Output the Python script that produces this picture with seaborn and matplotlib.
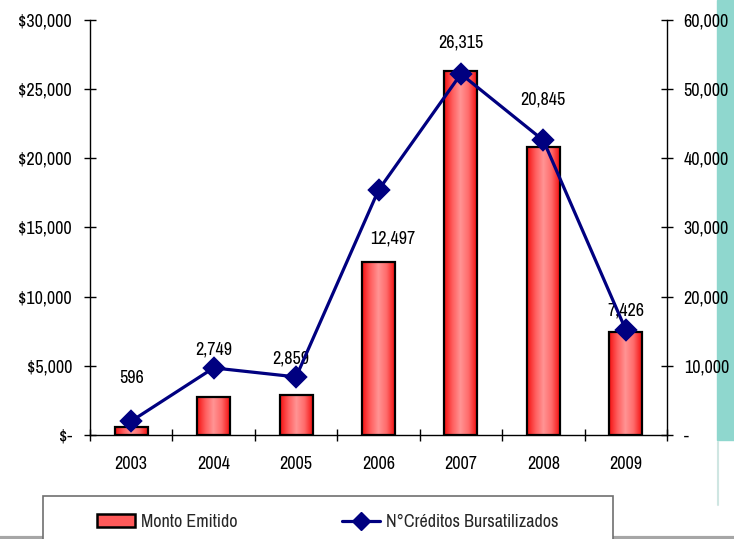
import numpy as np
import matplotlib
matplotlib.use('Agg')
import matplotlib.pyplot as plt
import seaborn as sns
from matplotlib.patches import Rectangle
from matplotlib.lines import Line2D
from matplotlib.colors import LinearSegmentedColormap
from matplotlib.ticker import FuncFormatter, FixedLocator

# ---- data ----
years = ['2003', '2004', '2005', '2006', '2007', '2008', '2009']
monto = [596, 2749, 2859, 12497, 26315, 20845, 7426]
creditos = [2000, 9700, 8400, 35400, 52200, 42600, 15200]
bar_labels = ['596', '2,749', '2,859', '12,497', '26,315', '20,845', '7,426']
left_ticks = [0, 5000, 10000, 15000, 20000, 25000, 30000]
right_ticks = [0, 10000, 20000, 30000, 40000, 50000, 60000]
series_names = ['Monto Emitido', 'N°Créditos Bursatilizados']

# label offsets (pixels from bar top centre) - style only
label_dy_px = [49, 47, 37, 24, 28, 47, 22]
label_dx_px = [0, 0, -5, 14, 0, 0, 0]

NAVY = '#000080'
FONT = ['Archivo Narrow', 'Liberation Sans', 'DejaVu Sans']
FS = 13

sns.set_theme(style='white')
plt.rcParams['font.family'] = FONT
plt.rcParams['font.size'] = FS

fig = plt.figure(figsize=(7.34, 5.39), dpi=100)
fig.patch.set_facecolor('white')

# decorations: teal stripe, bottom gray line
fig.patches.append(Rectangle((717 / 734, 1 - 440 / 539), 1, 440 / 539,
                             transform=fig.transFigure, color='#8fd7ce', zorder=-5))
fig.lines.append(Line2D([718 / 734, 718 / 734], [1 - 505 / 539, 1 - 442 / 539],
                        transform=fig.transFigure, color='#cfe6e2', lw=1.5, zorder=-5))
fig.lines.append(Line2D([0, 1], [1 - 537.5 / 539, 1 - 537.5 / 539],
                        transform=fig.transFigure, color='#a6a6a6', lw=3, zorder=-5))

ax = fig.add_axes([90 / 734, 1 - 435 / 539, 577 / 734, 415 / 539])
ax.set_facecolor('none')

sns.barplot(x=years, y=monto, ax=ax, color='#ff4a4a', saturation=1,
            edgecolor='black', linewidth=1.6, width=0.4, errorbar=None, zorder=2)

cmap = LinearSegmentedColormap.from_list(
    'barg', ['#f41010', '#ff5c5c', '#ff9494', '#ff6a6a', '#f41010'])
grad = np.linspace(0, 1, 256).reshape(1, -1)
for p in list(ax.patches):
    x, y = p.get_x(), p.get_y()
    w, h = p.get_width(), p.get_height()
    im = ax.imshow(grad, extent=[x, x + w, y, y + h], aspect='auto', cmap=cmap,
                   zorder=2.1, interpolation='bilinear')
    im.set_clip_path(p)
    p.set_facecolor('none')
    p.set_zorder(2.2)

for p, lab, dy, dx in zip(ax.patches, bar_labels, label_dy_px, label_dx_px):
    ax.annotate(lab, (p.get_x() + p.get_width() / 2, p.get_height()),
                xytext=(dx, dy), textcoords='offset pixels',
                ha='center', va='center', fontsize=FS, color='black')

ax.set_ylim(0, 30000)
ax.set_xlim(-0.5, 6.5)
ax.yaxis.set_major_locator(FixedLocator(left_ticks))
ax.yaxis.set_major_formatter(FuncFormatter(lambda v, p: '$-' if v == 0 else f'${v:,.0f}'))
ax.set_xlabel('')
ax.set_ylabel('')
ax.set_xticks(range(len(years)))
ax.set_xticklabels(years)
ax.set_xticks(np.arange(-0.5, len(years), 1.0), minor=True)
ax.tick_params(axis='x', which='major', length=0, pad=15, labelsize=FS, colors='black')
ax.tick_params(axis='x', which='minor', direction='inout', length=8, width=1,
               bottom=True, color='black')
ax.tick_params(axis='y', which='major', direction='inout', length=8, width=1,
               left=True, pad=9, labelsize=FS, colors='black')
for s in ['top', 'right']:
    ax.spines[s].set_visible(False)
for s in ['left', 'bottom']:
    ax.spines[s].set_color('black')
    ax.spines[s].set_linewidth(1)
ax.grid(False)

ax2 = ax.twinx()
sns.pointplot(x=years, y=creditos, ax=ax2, color=NAVY, markers='D', markersize=10,
              linewidth=2.3, errorbar=None)
ax2.set_ylim(0, 60000)
ax2.set_xlim(-0.5, 6.5)
ax2.set_ylabel('')
ax2.yaxis.set_major_locator(FixedLocator(right_ticks))
ax2.yaxis.set_major_formatter(FuncFormatter(lambda v, p: '-' if v == 0 else f'{v:,.0f}'))
ax2.tick_params(axis='y', which='major', direction='inout', length=8, width=1,
                right=True, pad=8, labelsize=FS, colors='black')
for s in ['top', 'left', 'bottom']:
    ax2.spines[s].set_visible(False)
ax2.spines['right'].set_color('black')
ax2.spines['right'].set_linewidth(1)
ax2.grid(False)

# legend box
fig.patches.append(Rectangle((43 / 734, -0.02), 570 / 734, 0.02 + 1 - 496 / 539,
                             transform=fig.transFigure, facecolor='white',
                             edgecolor='#6f6f6f', lw=1.2, zorder=3))
handles = [Rectangle((0, 0), 1, 1, facecolor='#ff5a5a', edgecolor='black', lw=1.8),
           Line2D([], [], color=NAVY, lw=2.3, marker='D', markersize=9)]
leg = fig.legend(handles, series_names, loc='center left',
                 bbox_to_anchor=(97 / 734, 1 - 522 / 539), ncol=2, frameon=False,
                 borderpad=0, borderaxespad=0, handlelength=2.1, handletextpad=0.33,
                 columnspacing=5.8, fontsize=FS)
leg.set_zorder(4)

fig.savefig('out.png', dpi=100, facecolor='white')
